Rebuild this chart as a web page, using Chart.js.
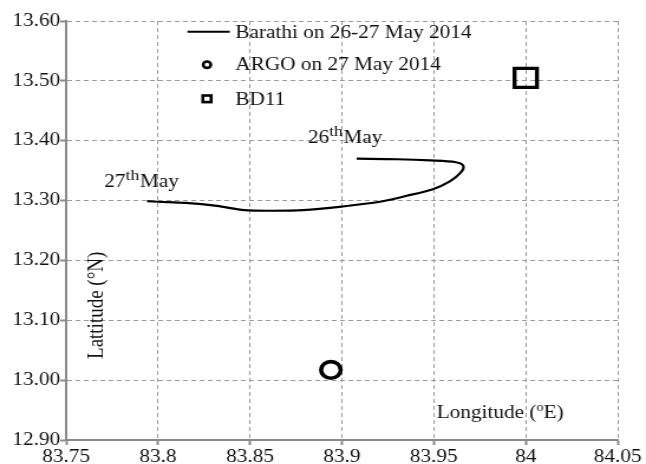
<!DOCTYPE html>
<html>
<head>
<meta charset="utf-8">
<script src="https://cdn.jsdelivr.net/npm/chart.js@4"></script>
<style>
    html, body { margin: 0; padding: 0; background: #fff; overflow: hidden; }
    /* the figure is a little wider than tall in its glyphs and markers */
    #wrap { width: 547px; height: 464px; transform: scaleX(1.181); transform-origin: 0 0; }
</style>
</head>
<body>
<div id="wrap"><canvas id="trackChart" width="547" height="464"></canvas></div>
<script>
// Barathi drifter track, 26-27 May 2014 (lon, lat)
const barathiLon = [83.908, 83.930, 83.948, 83.962, 83.966, 83.9647, 83.9587, 83.9495, 83.9353, 83.9207,
                    83.900, 83.879, 83.862, 83.847, 83.832, 83.815, 83.800, 83.794];
const barathiLat = [13.370, 13.369, 13.367, 13.364, 13.358, 13.347, 13.332, 13.319, 13.308, 13.298,
                    13.290, 13.284, 13.283, 13.284, 13.291, 13.296, 13.298, 13.299];

const argoLon = [83.894];
const argoLat = [13.017];

const bd11Lon = [84.0];
const bd11Lat = [13.505];

const xTickLabels = ['83.75', '83.8', '83.85', '83.9', '83.95', '84', '84.05'];
const yTickLabels = ['12.90', '13.00', '13.10', '13.20', '13.30', '13.40', '13.50', '13.60'];

const FONT = '"Liberation Serif", "Times New Roman", serif';
const INK = '#111';

const toPoints = (xs, ys) => xs.map((x, i) => ({ x: x, y: ys[i] }));

// Legend drawn inside the plot, one row per dataset
const innerLegend = {
    id: 'innerLegend',
    afterDatasetsDraw(chart) {
        const ctx = chart.ctx;
        const xs = chart.scales.x, ys = chart.scales.y;
        const rowsY = [13.582, 13.527, 13.47];
        const symX = xs.getPixelForValue(83.8266);
        const textX = xs.getPixelForValue(83.842);
        ctx.save();
        ctx.font = '18px ' + FONT;
        ctx.fillStyle = INK;
        ctx.textBaseline = 'middle';
        chart.data.datasets.forEach((ds, i) => {
            const y = ys.getPixelForValue(rowsY[i]);
            ctx.strokeStyle = '#000';
            if (ds.showLine) {
                ctx.lineWidth = 2;
                ctx.beginPath();
                ctx.moveTo(xs.getPixelForValue(83.816), y);
                ctx.lineTo(xs.getPixelForValue(83.839), y);
                ctx.stroke();
            } else if (ds.pointStyle === 'circle') {
                ctx.lineWidth = 2.6;
                ctx.beginPath();
                ctx.arc(symX, y, 3.2, 0, Math.PI * 2);
                ctx.stroke();
            } else {
                ctx.lineWidth = 2.6;
                ctx.strokeRect(symX - 3.5, y - 3.3, 7, 6.6);
            }
            ctx.fillText(ds.label, textX, y + 1);
        });
        ctx.restore();
    }
};

// Day labels and axis titles placed inside the plot area
const notes = {
    id: 'notes',
    afterDatasetsDraw(chart) {
        const ctx = chart.ctx;
        const xs = chart.scales.x, ys = chart.scales.y;
        ctx.save();
        ctx.fillStyle = INK;
        ctx.textBaseline = 'alphabetic';

        const dayLabel = (day, lon, lat) => {
            let x = xs.getPixelForValue(lon);
            const y = ys.getPixelForValue(lat);
            ctx.font = '18px ' + FONT;
            ctx.fillText(day, x, y);
            x += ctx.measureText(day).width;
            ctx.font = '15px ' + FONT;
            ctx.fillText('th', x, y - 7);
            x += ctx.measureText('th').width + 0.5;
            ctx.font = '18px ' + FONT;
            ctx.fillText('May', x, y);
        };
        dayLabel('27', 83.7707, 13.322);
        dayLabel('26', 83.8815, 13.396);

        // x title with raised degree mark
        let x = xs.getPixelForValue(83.9516);
        const yb = ys.getPixelForValue(12.937);
        ctx.font = '18px ' + FONT;
        ctx.fillText('Longitude (', x, yb);
        x += ctx.measureText('Longitude (').width;
        ctx.font = '12px ' + FONT;
        ctx.fillText('o', x, yb - 7);
        x += ctx.measureText('o').width;
        ctx.font = '18px ' + FONT;
        ctx.fillText('E)', x, yb);

        // y title, rotated
        ctx.translate(xs.getPixelForValue(83.7665), ys.getPixelForValue(13.125));
        ctx.rotate(-Math.PI / 2);
        ctx.textAlign = 'center';
        ctx.textBaseline = 'middle';
        ctx.font = '19px ' + FONT;
        ctx.fillText('Lattitude (\u00B0N)', 0, 0);
        ctx.restore();
    }
};

new Chart(document.getElementById('trackChart'), {
    type: 'scatter',
    data: {
        datasets: [
            {
                label: 'Barathi on 26-27 May 2014',
                data: toPoints(barathiLon, barathiLat),
                showLine: true,
                borderColor: '#000',
                borderWidth: 2.2,
                tension: 0.3,
                pointRadius: 0
            },
            {
                label: 'ARGO on 27 May 2014',
                data: toPoints(argoLon, argoLat),
                pointStyle: 'circle',
                pointRadius: 8.3,
                borderWidth: 3.6,
                borderColor: '#000',
                backgroundColor: 'rgba(0,0,0,0)'
            },
            {
                label: 'BD11',
                data: toPoints(bd11Lon, bd11Lat),
                pointStyle: 'rect',
                pointRadius: 13.4,
                borderWidth: 3.4,
                borderColor: '#000',
                backgroundColor: 'rgba(0,0,0,0)'
            }
        ]
    },
    options: {
        responsive: false,
        animation: false,
        devicePixelRatio: 1,
        layout: { padding: { top: 21, right: 24, left: 0, bottom: 0 } },
        plugins: {
            legend: { display: false },
            tooltip: { enabled: false }
        },
        scales: {
            x: {
                type: 'linear',
                min: 83.75,
                max: 84.05,
                afterFit(scale) { scale.height = 24; },
                ticks: {
                    stepSize: 0.05,
                    padding: 1,
                    color: INK,
                    font: { family: FONT, size: 18 },
                    maxRotation: 0,
                    callback: (v, i) => xTickLabels[i]
                },
                grid: { color: '#9a9a9a', lineWidth: 1, tickColor: '#8a8a8a', tickLength: 5, tickWidth: 2 },
                border: { display: true, color: '#8a8a8a', width: 2, dash: [4, 3] }
            },
            y: {
                type: 'linear',
                min: 12.9,
                max: 13.6,
                afterFit(scale) { scale.width = 56; },
                ticks: {
                    stepSize: 0.1,
                    padding: 0,
                    color: INK,
                    font: { family: FONT, size: 18 },
                    callback: (v, i) => yTickLabels[i]
                },
                grid: { color: '#9a9a9a', lineWidth: 1, tickColor: '#8a8a8a', tickLength: 5, tickWidth: 2 },
                border: { display: true, color: '#8a8a8a', width: 2, dash: [4, 3] }
            }
        }
    },
    plugins: [innerLegend, notes]
});
</script>
</body>
</html>
